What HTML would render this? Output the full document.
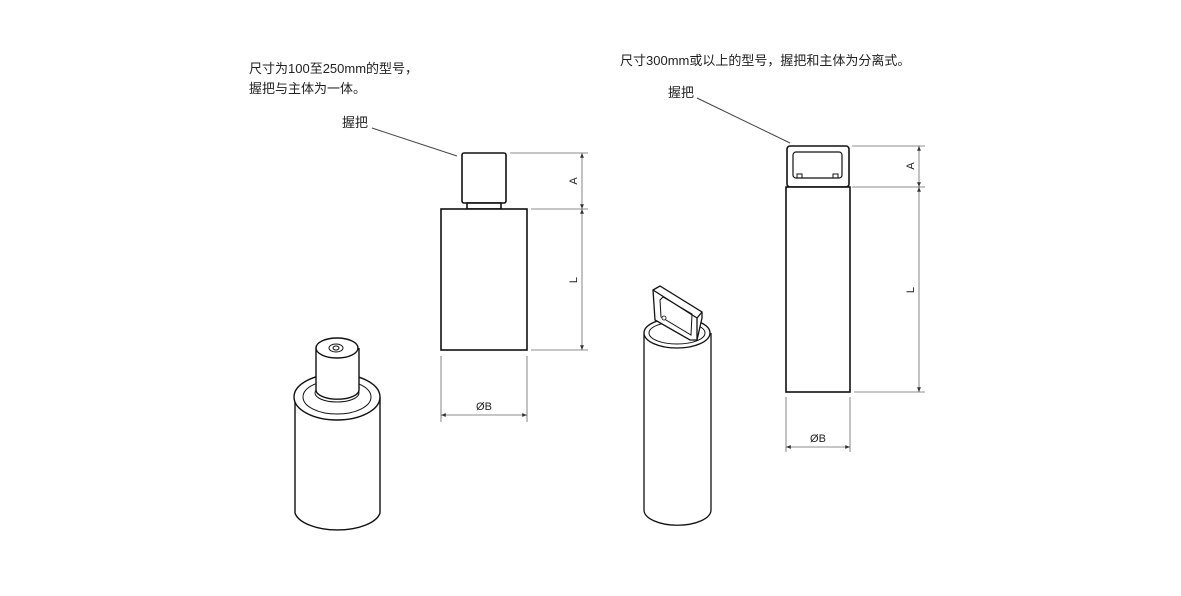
<!DOCTYPE html>
<html><head><meta charset="utf-8"><style>
body{margin:0;background:#fff;width:1181px;height:591px;overflow:hidden}
svg text{font-family:"Liberation Sans","Noto Sans CJK SC",sans-serif;fill:#222}
</style></head><body>
<svg width="1181" height="591" viewBox="0 0 1181 591">
<defs><marker id="ar" viewBox="0 0 10 10" refX="10" refY="5" markerWidth="8" markerHeight="6" orient="auto-start-reverse"><path d="M0,1 L10,5 L0,9 z" fill="#333"/></marker></defs>
<g font-size="13">
<text x="249" y="73">尺寸为100至250mm的型号，</text>
<text x="249" y="93">握把与主体为一体。</text>
<text x="620" y="65">尺寸300mm或以上的型号，握把和主体为分离式。</text>
<text x="342" y="127">握把</text>
<text x="668" y="97">握把</text>
</g>
<g stroke="#444" stroke-width="1" fill="none">
<line x1="372" y1="128" x2="457" y2="156"/>
<line x1="697" y1="98" x2="790" y2="143"/>
</g>
<!-- left front view -->
<g stroke="#111" stroke-width="1.6" fill="#fff">
<rect x="462" y="153" width="44" height="50" rx="2"/>
<rect x="467" y="203" width="34" height="6"/>
<rect x="441" y="209" width="86" height="141"/>
</g>
<g stroke="#666" stroke-width="0.8" fill="none">
<line x1="510" y1="153" x2="588" y2="153"/>
<line x1="531" y1="209" x2="588" y2="209"/>
<line x1="531" y1="350" x2="588" y2="350"/>
<line x1="582" y1="153" x2="582" y2="209" marker-start="url(#ar)" marker-end="url(#ar)"/>
<line x1="582" y1="209" x2="582" y2="350" marker-start="url(#ar)" marker-end="url(#ar)"/>
<line x1="441" y1="356" x2="441" y2="422"/>
<line x1="527" y1="356" x2="527" y2="422"/>
<line x1="441" y1="415" x2="527" y2="415" marker-start="url(#ar)" marker-end="url(#ar)"/>
</g>
<g font-size="11">
<text x="577" y="181" transform="rotate(-90 577 181)" text-anchor="middle">A</text>
<text x="577" y="280" transform="rotate(-90 577 280)" text-anchor="middle">L</text>
<text x="484" y="410" text-anchor="middle">ØB</text>
</g>
<!-- right front view -->
<g stroke="#111" stroke-width="1.6" fill="#fff">
<rect x="787" y="146" width="62" height="41" rx="3"/>
<rect x="793" y="152" width="49" height="26" rx="3" stroke-width="1.2"/>
<rect x="786" y="187" width="64" height="205"/>
</g>
<g stroke="#111" stroke-width="1" fill="none">
<rect x="797" y="174" width="5" height="4"/><rect x="833" y="174" width="5" height="4"/>
</g>
<g stroke="#666" stroke-width="0.8" fill="none">
<line x1="852" y1="146" x2="925" y2="146"/>
<line x1="852" y1="187" x2="925" y2="187"/>
<line x1="854" y1="392" x2="925" y2="392"/>
<line x1="919" y1="146" x2="919" y2="187" marker-start="url(#ar)" marker-end="url(#ar)"/>
<line x1="919" y1="187" x2="919" y2="392" marker-start="url(#ar)" marker-end="url(#ar)"/>
<line x1="786" y1="397" x2="786" y2="452"/>
<line x1="850" y1="397" x2="850" y2="452"/>
<line x1="786" y1="447" x2="850" y2="447" marker-start="url(#ar)" marker-end="url(#ar)"/>
</g>
<g font-size="11">
<text x="914" y="166" transform="rotate(-90 914 166)" text-anchor="middle">A</text>
<text x="914" y="290" transform="rotate(-90 914 290)" text-anchor="middle">L</text>
<text x="818" y="442" text-anchor="middle">ØB</text>
</g>
<!-- left iso -->
<g stroke="#111" stroke-width="1.4" fill="#fff">
<path d="M295,397 L295,513 A43,20 0 0 0 380,513 L380,397"/>
<ellipse cx="337" cy="397" rx="43" ry="23"/>
<ellipse cx="337" cy="397" rx="34" ry="17" stroke-width="1"/>
<ellipse cx="337" cy="393" rx="22" ry="9" stroke-width="1"/>
<path d="M316,348 L316,390 A21,9 0 0 0 359,390 L359,348"/>
<ellipse cx="337" cy="348" rx="21" ry="10"/>
<ellipse cx="336" cy="348" rx="7" ry="4" stroke-width="1"/>
<ellipse cx="336" cy="348" rx="3" ry="2" stroke-width="1"/>
</g>
<!-- right iso -->
<g stroke="#111" stroke-width="1.3" fill="#fff">
<path d="M644,333 L644,510 A33,15 0 0 0 711,510 L711,333"/>
<ellipse cx="677" cy="333" rx="33" ry="15"/>
<ellipse cx="677" cy="333" rx="28" ry="11" stroke-width="1"/>
<path d="M653,290 L660,286 L702,312 L702,318 L697,340 L690,340 L655,320 z"/>
<path d="M660,300 L663,297 L692,314 L691,335 L661,317 z" stroke-width="1"/>
<line x1="653" y1="290" x2="697" y2="318"/><line x1="697" y1="318" x2="702" y2="312"/>
<line x1="697" y1="318" x2="697" y2="340"/>
<circle cx="664" cy="318" r="2" stroke-width="0.8"/>
</g>
</svg>
</body></html>
